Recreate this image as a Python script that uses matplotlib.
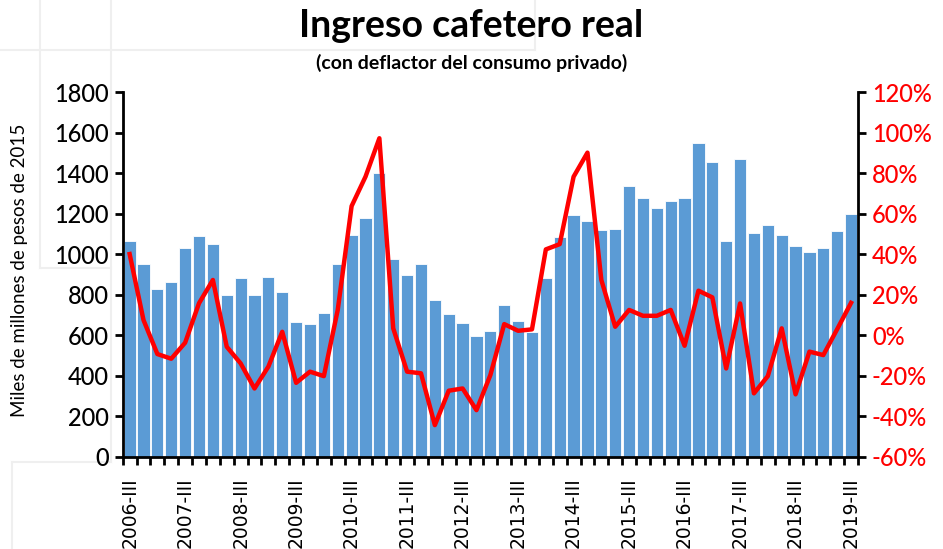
import numpy as np
import matplotlib
matplotlib.use("Agg")
import matplotlib.pyplot as plt
from matplotlib.ticker import FuncFormatter
from matplotlib.lines import Line2D

# quarters 2006-III .. 2019-III
years = list(range(2006, 2020))
quarters = []
for y in years:
    for q in ["I", "II", "III", "IV"]:
        quarters.append(f"{y}-{q}")
quarters = quarters[2:2 + 53]

# real coffee income (miles de millones de pesos de 2015)
ingreso = [1065, 950, 828, 861, 1030, 1091, 1053, 800, 882, 800, 889, 812,
           664, 657, 708, 950, 1096, 1180, 1399, 976, 896, 950, 772, 705,
           659, 595, 621, 748, 669, 615, 882, 1083, 1194, 1162, 1121, 1127,
           1337, 1278, 1227, 1265, 1278, 1550, 1454, 1065, 1470, 1105, 1143,
           1095, 1041, 1013, 1031, 1115, 1200]

# annual change (%)
variacion = [40.1, 7.5, -9.3, -11.6, -3.7, 15.8, 27.3, -5.7, -13.9, -26.3,
             -15.5, 1.7, -23.5, -18.0, -20.2, 12.5, 63.8, 78.3, 97.3, 3.4,
             -18.0, -18.8, -44.4, -27.4, -26.3, -37.0, -19.7, 5.5, 2.2, 2.9,
             42.4, 45.0, 78.3, 90.2, 27.3, 4.2, 12.5, 9.6, 9.6, 12.5, -5.2,
             22.0, 18.7, -16.4, 15.7, -28.7, -20.2, 3.4, -29.2, -8.1, -9.8,
             3.0, 16.0]

W, H = 943, 549
fig = plt.figure(figsize=(W / 100, H / 100), dpi=100)

# faint background grid artifacts from the pasted spreadsheet
gray = "#efefef"
segs = [((0, 50), (535, 50)), ((535, 0), (535, 50)),
        ((40, 0), (40, 268)), ((40, 268), (111, 268)), ((111, 0), (111, 462)),
        ((12, 462), (111, 462)), ((12, 462), (12, 549))]
for (x0, y0), (x1, y1) in segs:
    fig.add_artist(Line2D([x0 / W, x1 / W], [1 - y0 / H, 1 - y1 / H],
                          color=gray, lw=1.5, transform=fig.transFigure, zorder=0))

ax = fig.add_axes([122.7 / W, 1 - 456.7 / H, (858 - 122.7) / W, 364.4 / H])
ax.patch.set_alpha(0)
x = np.arange(len(quarters))
ax.bar(x, ingreso, width=0.88, color="#5B9BD5", edgecolor="white", linewidth=0.6, zorder=2)
ax.set_xlim(-0.5, len(quarters) - 0.5)
ax.set_ylim(0, 1800)
ax.set_yticks(range(0, 1801, 200))

ax2 = ax.twinx()
ax2.plot(x, variacion, color="#FF0000", lw=3.2, solid_joinstyle="round", zorder=3)
ax2.set_ylim(-60, 120)
ax2.set_yticks(range(-60, 121, 20))
ax2.yaxis.set_major_formatter(FuncFormatter(lambda v, p: f"{v:.0f}%"))

for a in (ax, ax2):
    for s in a.spines.values():
        s.set_linewidth(2)
        s.set_color("black")
    a.spines["top"].set_visible(False)

ax.spines["right"].set_visible(False)
ax2.spines["left"].set_visible(False)
ax2.spines["bottom"].set_visible(False)

ax.tick_params(axis="y", direction="out", length=6, width=2, labelsize=17, pad=4)
for lab in ax.get_yticklabels():
    lab.set_family("Lato")
    lab.set_fontweight("medium")
ax2.tick_params(axis="y", direction="out", length=6, width=2, labelsize=17,
                labelcolor="#FF0000", pad=4)
for lab in ax2.get_yticklabels():
    lab.set_family("Lato")
    lab.set_fontweight("medium")

# x axis: marks at category boundaries, labels every 4 quarters
ax.set_xticks(x[::4])
ax.set_xticklabels([quarters[i] for i in x[::4]], rotation=90, fontsize=13.5,
                   family="DejaVu Sans")
ax.set_xticks(np.arange(-0.5, len(quarters), 1), minor=True)
ax.tick_params(axis="x", which="major", length=0, pad=15)
ax.tick_params(axis="x", which="minor", direction="out", length=6, width=2)

fig.text(20 / W, 1 - 270 / H, "Miles de millones de pesos de 2015", rotation=90,
         ha="center", va="center", fontsize=13.5, family="Lato")
fig.text(471 / W, 1 - 26 / H, "Ingreso cafetero real", ha="center", va="center",
         fontsize=27, fontweight="bold", family="Lato")
fig.text(472 / W, 1 - 63 / H, "(con deflactor del consumo privado)", ha="center",
         va="center", fontsize=14, fontweight="bold", family="Lato")

fig.savefig("out.png", dpi=100)
